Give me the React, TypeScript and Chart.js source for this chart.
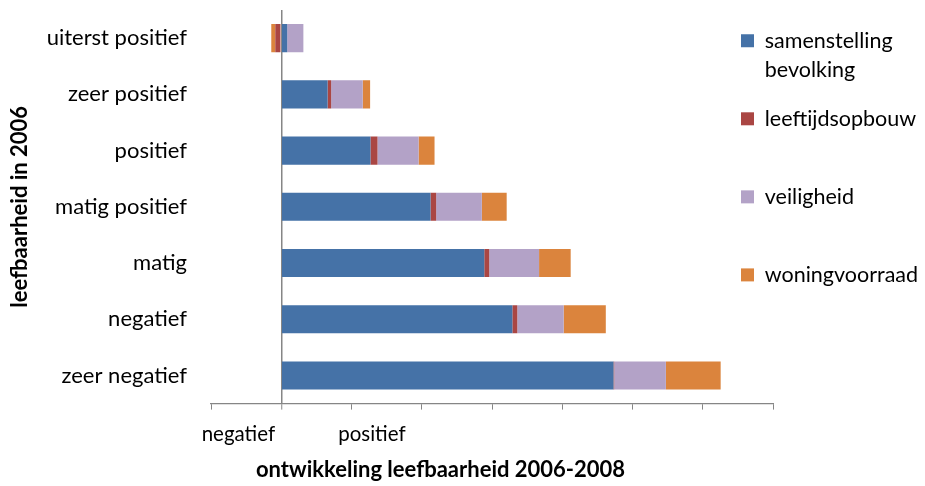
import React, { useEffect, useRef } from "react";
import { Chart, registerables } from "chart.js";

Chart.register(...registerables);

const categories = [
  "uiterst positief",
  "zeer positief",
  "positief",
  "matig positief",
  "matig",
  "negatief",
  "zeer negatief",
];
const seriesNames = ["samenstelling bevolking", "leeftijdsopbouw", "veiligheid", "woningvoorraad"];
const samenstelling = [0.085, 0.66, 1.27, 2.125, 2.89, 3.29, 4.73];
const leeftijdsopbouw = [-0.085, 0.05, 0.1, 0.08, 0.07, 0.07, 0.01];
const veiligheid = [0.23, 0.45, 0.585, 0.65, 0.71, 0.66, 0.735];
const woningvoorraad = [-0.057, 0.105, 0.227, 0.354, 0.45, 0.6, 0.78];
const seriesColors = ["#4572A7", "#AA4643", "#B3A2C7", "#DB843D"];
const xTickLabels = ["negatief", "positief"];
const xTickValues = [-0.61, 1.29];
const xMin = -1;
const xMax = 7;
const yTitle = "leefbaarheid in 2006";
const xTitle = "ontwikkeling leefbaarheid 2006-2008";

const FONT = "Lato";
const AXIS_GREY = "#868686";

const legendLines = (name: string) => {
  const parts = name.split(" ");
  return parts.length > 1 ? parts : [parts[0], ""];
};

const shiftPlugin = {
  id: "shiftBoxes",
  afterLayout(chart: any) {
    const lg = chart.legend;
    if (lg) {
      lg.left -= 52;
    }
    const tb = chart.titleBlock;
    if (tb) {
      tb.left -= 22;
      tb.right -= 22;
    }
  },
};

export default function App() {
  const ref = useRef<HTMLCanvasElement | null>(null);

  useEffect(() => {
    if (!ref.current) return;
    const values = [samenstelling, leeftijdsopbouw, veiligheid, woningvoorraad];
    const chart = new Chart(ref.current, {
      type: "bar",
      data: {
        labels: categories,
        datasets: seriesNames.map((name, i) => ({
          label: name,
          data: values[i],
          backgroundColor: seriesColors[i],
          borderWidth: 0,
          xAxisID: "x",
          yAxisID: "y",
          categoryPercentage: 1,
          barPercentage: 0.5,
        })),
      },
      options: {
        indexAxis: "y",
        animation: false,
        responsive: true,
        maintainAspectRatio: false,
        layout: { padding: { top: 10, left: 0, right: 0, bottom: 0 } },
        scales: {
          x: {
            type: "linear",
            stacked: true,
            min: xMin,
            max: xMax,
            position: "bottom",
            weight: 0,
            afterFit: (scale: any) => {
              scale.height = 6;
            },
            ticks: { display: false, stepSize: 1 },
            grid: {
              drawOnChartArea: true,
              drawTicks: true,
              tickLength: 6,
              color: (ctx: any) => (ctx.tick && ctx.tick.value === 0 ? AXIS_GREY : "rgba(0,0,0,0)"),
              lineWidth: (ctx: any) => (ctx.tick && ctx.tick.value === 0 ? 1.5 : 1),
              tickColor: AXIS_GREY,
              tickWidth: 1,
            },
            border: { display: true, color: AXIS_GREY, width: 1.2 },
          },
          x2: {
            type: "linear",
            min: xMin,
            max: xMax,
            position: "bottom",
            weight: 1,
            afterFit: (scale: any) => {
              scale.height = 37;
            },
            grid: { display: false, drawTicks: false, drawOnChartArea: false },
            border: { display: false },
            afterBuildTicks: (scale: any) => {
              scale.ticks = xTickValues.map((v) => ({ value: v }));
            },
            ticks: {
              autoSkip: false,
              maxRotation: 0,
              padding: 12,
              color: "#000",
              font: { family: FONT, size: 20.5 },
              callback: (_v: any, i: number) => xTickLabels[i],
            },
          },
          y: {
            type: "category",
            stacked: true,
            grid: { display: false, drawTicks: false },
            border: { display: false },
            afterFit: (scale: any) => {
              scale.width = 211;
              scale.paddingTop = 0;
              scale.paddingBottom = 0;
            },
            ticks: {
              padding: 24,
              color: "#000",
              font: { family: FONT, size: 22 },
            },
            title: {
              display: true,
              text: yTitle,
              color: "#000",
              font: { family: FONT, size: 22, weight: "bold" },
              padding: { top: 7, bottom: 0 },
            },
          },
        },
        plugins: {
          legend: {
            display: true,
            position: "right",
            align: "start",
            maxWidth: 152,
            labels: {
              boxWidth: 13,
              boxHeight: 13,
              padding: 20,
              color: "#000",
              font: { family: FONT, size: 21.5, lineHeight: 1.35 },
              generateLabels: (ch: any) => {
                const base = Chart.defaults.plugins.legend.labels.generateLabels(ch);
                return base.map((item: any, i: number) => ({
                  ...item,
                  text: legendLines(seriesNames[i]),
                  lineWidth: 0,
                  strokeStyle: "rgba(0,0,0,0)",
                }));
              },
            },
          },
          title: {
            display: true,
            position: "bottom",
            text: xTitle,
            color: "#000",
            font: { family: FONT, size: 22, weight: "bold" },
            padding: { top: 10, bottom: 3 },
          },
          tooltip: { enabled: false },
        },
      },
      plugins: [shiftPlugin],
    } as any);
    return () => chart.destroy();
  }, []);

  return (
    <div style={{ position: "absolute", left: 0, top: 0, width: 925, height: 486, background: "#fff" }}>
      <canvas ref={ref} />
    </div>
  );
}
